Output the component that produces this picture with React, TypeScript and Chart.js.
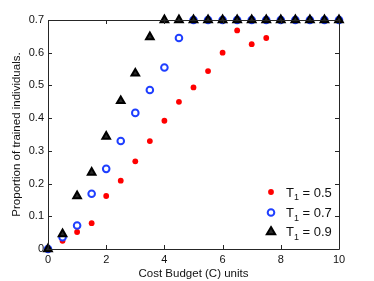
import React, { useEffect, useRef } from "react";
import { Chart, registerables } from "chart.js";

Chart.register(...registerables);

const X_VALUES = [0, 0.5, 1, 1.5, 2, 2.5, 3, 3.5, 4, 4.5, 5, 5.5, 6, 6.5, 7, 7.5, 8, 8.5, 9, 9.5, 10];
const T05 = [0, 0.025, 0.052, 0.079, 0.162, 0.209, 0.268, 0.33, 0.392, 0.45, 0.494, 0.544, 0.6, 0.668, 0.626, 0.645, 0.7, 0.7, 0.7, 0.7, 0.7];
const T07 = [0, 0.036, 0.072, 0.169, 0.245, 0.33, 0.416, 0.486, 0.555, 0.645, 0.7, 0.7, 0.7, 0.7, 0.7, 0.7, 0.7, 0.7, 0.7, 0.7, 0.7];
const T09 = [0, 0.046, 0.162, 0.234, 0.344, 0.453, 0.537, 0.648, 0.7, 0.7, 0.7, 0.7, 0.7, 0.7, 0.7, 0.7, 0.7, 0.7, 0.7, 0.7, 0.7];
const X_TICKS = [0, 2, 4, 6, 8, 10];
const Y_TICKS = [0, 0.1, 0.2, 0.3, 0.4, 0.5, 0.6, 0.7];
const LEGEND_VALUES = ["0.5", "0.7", "0.9"];

const FONT = "'Liberation Sans', Arial, Helvetica, sans-serif";

const boxPlugin = {
  id: "boxTicks",
  afterDraw(chart: any) {
    const { ctx, chartArea: a, scales } = chart;
    const xs = scales.x;
    const ys = scales.y;
    ctx.save();
    ctx.strokeStyle = "#262626";
    ctx.lineWidth = 1;
    ctx.beginPath();
    ctx.rect(Math.round(a.left) + 0.5, Math.round(a.top) + 0.5, Math.round(a.right - a.left), Math.round(a.bottom - a.top));
    ctx.stroke();
    const tl = 4;
    ctx.beginPath();
    X_TICKS.forEach((v) => {
      const px = Math.round(xs.getPixelForValue(v)) + 0.5;
      ctx.moveTo(px, a.bottom);
      ctx.lineTo(px, a.bottom - tl);
      ctx.moveTo(px, a.top);
      ctx.lineTo(px, a.top + tl);
    });
    Y_TICKS.forEach((v) => {
      const py = Math.round(ys.getPixelForValue(v)) + 0.5;
      ctx.moveTo(a.left, py);
      ctx.lineTo(a.left + tl, py);
      ctx.moveTo(a.right, py);
      ctx.lineTo(a.right - tl, py);
    });
    ctx.stroke();
    ctx.restore();
  },
};

const legendPlugin = {
  id: "insideLegend",
  afterDraw(chart: any) {
    const { ctx, chartArea: a } = chart;
    const mx = a.right - 68;
    const tx = a.right - 53;
    const rows = [a.bottom - 57, a.bottom - 36.5, a.bottom - 17.5];
    ctx.save();
    rows.forEach((y, i) => {
      const ds = chart.data.datasets[i];
      ctx.save();
      ctx.lineWidth = ds.borderWidth;
      ctx.strokeStyle = ds.borderColor;
      ctx.fillStyle = ds.backgroundColor;
      if (ds.pointStyle === "circle") {
        ctx.beginPath();
        ctx.arc(mx, y, ds.pointRadius, 0, Math.PI * 2);
        ctx.fill();
        if (ds.borderWidth > 0) ctx.stroke();
      } else {
        const r = ds.pointRadius;
        ctx.beginPath();
        ctx.moveTo(mx, y - r);
        ctx.lineTo(mx + r * 0.95, y + r * 0.6);
        ctx.lineTo(mx - r * 0.95, y + r * 0.6);
        ctx.closePath();
        ctx.fill();
        ctx.stroke();
      }
      ctx.restore();
      ctx.fillStyle = "#111";
      ctx.textBaseline = "alphabetic";
      ctx.font = `13px ${FONT}`;
      const base = y + 4.5;
      ctx.fillText("T", tx, base);
      let w = ctx.measureText("T").width;
      ctx.font = `9px ${FONT}`;
      ctx.fillText("1", tx + w, base + 3.5);
      w += ctx.measureText("1").width;
      ctx.font = `13px ${FONT}`;
      ctx.fillText(" = " + LEGEND_VALUES[i], tx + w, base);
    });
    ctx.restore();
  },
};

export default function App() {
  const ref = useRef<HTMLCanvasElement>(null);
  useEffect(() => {
    document.body.style.margin = "0";
    const pts = (arr: number[]) => X_VALUES.map((x, i) => ({ x, y: arr[i] }));
    const chart = new Chart(ref.current!, {
      type: "scatter",
      data: {
        datasets: [
          {
            label: "T1 = 0.5",
            data: pts(T05),
            pointStyle: "circle",
            pointRadius: 2.9,
            borderWidth: 0,
            borderColor: "#ff0000",
            backgroundColor: "#ff0000",
            order: 2,
            clip: false,
          } as any,
          {
            label: "T1 = 0.7",
            data: pts(T07),
            pointStyle: "circle",
            pointRadius: 3.3,
            borderWidth: 2,
            borderColor: "#1f3fff",
            backgroundColor: "#ffffff",
            order: 1,
            clip: false,
          },
          {
            label: "T1 = 0.9",
            data: pts(T09),
            pointStyle: "triangle",
            pointRadius: 4.4,
            borderWidth: 2,
            borderColor: "#000000",
            backgroundColor: "#2a2a2a",
            order: 0,
            clip: false,
          },
        ],
      },
      options: {
        animation: false,
        responsive: false,
        devicePixelRatio: 1,
        layout: { padding: { top: 20, right: 35, left: 0, bottom: 0 } },
        plugins: { legend: { display: false }, tooltip: { enabled: false } },
        scales: {
          x: {
            type: "linear",
            min: 0,
            max: 10,
            grid: { display: false, drawTicks: false },
            border: { display: false },
            afterBuildTicks: (s: any) => {
              s.ticks = X_TICKS.map((v) => ({ value: v }));
            },
            afterFit: (s: any) => {
              s.height = 32;
            },
            ticks: { color: "#111", font: { family: FONT, size: 11 }, padding: 4, maxRotation: 0 },
            title: {
              display: true,
              text: "Cost Budget (C) units",
              color: "#111",
              font: { family: FONT, size: 11.5 },
              padding: { top: 0, bottom: 0 },
            },
          },
          y: {
            type: "linear",
            min: 0,
            max: 0.7,
            grid: { display: false, drawTicks: false },
            border: { display: false },
            afterBuildTicks: (s: any) => {
              s.ticks = Y_TICKS.map((v) => ({ value: v }));
            },
            afterFit: (s: any) => {
              s.width = 48;
            },
            ticks: {
              color: "#111",
              font: { family: FONT, size: 11 },
              padding: 4,
              callback: (v: any) => String(Math.round(Number(v) * 10) / 10),
            },
            title: {
              display: true,
              text: "Proportion of trained individuals.",
              color: "#111",
              font: { family: FONT, size: 11.5 },
              padding: { top: 10, bottom: 0 },
            },
          },
        },
      },
      plugins: [boxPlugin, legendPlugin],
    });
    return () => chart.destroy();
  }, []);
  return (
    <div style={{ position: "fixed", left: 0, top: 0, width: 374, height: 281, background: "#fff" }}>
      <canvas ref={ref} width={374} height={281} style={{ width: 374, height: 281 }} />
    </div>
  );
}
